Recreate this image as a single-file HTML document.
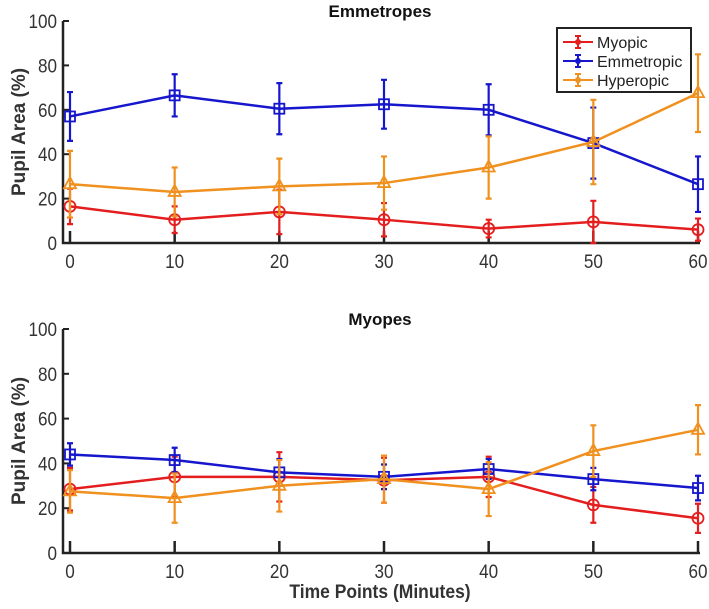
<!DOCTYPE html>
<html><head><meta charset="utf-8"><style>
body{margin:0;background:#fff;}
svg text{font-family:"Liberation Sans",Arial,sans-serif;}
</style></head><body>
<svg id="chart" width="709" height="604" xmlns="http://www.w3.org/2000/svg"></svg>
<script>
const times=[0,10,20,30,40,50,60];
const yTicks=[0,20,40,60,80,100];
const seriesNames=["Myopic","Emmetropic","Hyperopic"];
const emMyopic=[16.5,10.5,14,10.5,6.5,9.5,6];
const emMyopicErr=[8,6,10,7.5,4,9.5,5];
const emEmmetropic=[57,66.5,60.5,62.5,60,45,26.5];
const emEmmetropicErr=[11,9.5,11.5,11,11.5,16,12.5];
const emHyperopic=[26.5,23,25.5,27,34,45.5,67.5];
const emHyperopicErr=[15,11,12.5,12,14,19,17.5];
const myMyopic=[28.5,34,34,32.5,34,21.5,15.5];
const myMyopicErr=[9.5,9,11,10,9,8,6.5];
const myEmmetropic=[44,41.5,36,34,37.5,33,29];
const myEmmetropicErr=[5,5.5,6,5.5,4.5,5,5.5];
const myHyperopic=[27.5,24.5,30,33,28.5,45.5,55];
const myHyperopicErr=[9.5,11,11.5,10.5,12,11.5,11];

const NS="http://www.w3.org/2000/svg";
const svg=document.getElementById('chart');
const colors=["#e41e1e","#1616cc","#f0901e"];
function mk(tag,attrs,parent){const e=document.createElementNS(NS,tag);for(const k in attrs)e.setAttribute(k,attrs[k]);(parent||svg).appendChild(e);return e;}
function xS(t){return 70+t/60*628;}

function panel(name,title,top,bottom,vals,errs){
  const g=mk('g',{});
  
  
  const yS=v=>bottom-v/100*(bottom-top);
  const tt=mk('text',{x:380,y:top-4,'text-anchor':'middle','font-size':17,'font-weight':'bold',fill:'#111'},g);
  tt.textContent=title;
  
  
  const ax=mk('path',{d:`M63 ${top} V${bottom} H700`,stroke:'#222','stroke-width':2.5,fill:'none'},g);
  
  
  yTicks.forEach(v=>{
    mk('line',{x1:63,x2:69,y1:yS(v),y2:yS(v),stroke:'#222','stroke-width':2},g);
    const t=mk('text',{x:57/0.9,y:yS(v)+7,'text-anchor':'end','font-size':19,fill:'#333',transform:'scale(0.9,1)'},g);
    t.textContent=v;
    
    
  });
  times.forEach(v=>{
    mk('line',{x1:xS(v),x2:xS(v),y1:bottom,y2:bottom-12,stroke:'#222','stroke-width':2.5},g);
    const t=mk('text',{x:xS(v)/0.9,y:bottom+25,'text-anchor':'middle','font-size':19,fill:'#333',transform:'scale(0.9,1)'},g);
    t.textContent=v;
    
    
  });
  const yl=mk('text',{x:0,y:0,'text-anchor':'middle','font-size':19,'font-weight':'bold',fill:'#333',transform:`translate(25,${(top+bottom)/2}) rotate(-90)`},g);
  yl.textContent='Pupil Area (%)';
  
  
  vals.forEach((s,i)=>{
    const c=colors[i];
    const sg=mk('g',{},g);
    
    
    s.forEach((v,j)=>{
      const x=xS(times[j]),e=errs[i][j];
      const y1=yS(Math.max(0,v-e)),y2=yS(v+e);
      mk('path',{d:`M${x} ${y1}V${y2}M${x-3} ${y1}H${x+3}M${x-3} ${y2}H${x+3}`,stroke:c,'stroke-width':2.2,fill:'none'},sg);
    });
    mk('polyline',{points:s.map((v,j)=>xS(times[j])+','+yS(v)).join(' '),stroke:c,'stroke-width':2.5,fill:'none'},sg);
    s.forEach((v,j)=>{
      const x=xS(times[j]),y=yS(v);let m;
      if(i==0)m=mk('circle',{cx:x,cy:y,r:5.5,stroke:c,'stroke-width':1.8,fill:'none'},sg);
      else if(i==1)m=mk('rect',{x:x-5,y:y-5,width:10,height:10,stroke:c,'stroke-width':1.8,fill:'none'},sg);
      else m=mk('path',{d:`M${x} ${y-7}L${x+6} ${y+4}L${x-6} ${y+4}Z`,stroke:c,'stroke-width':1.8,fill:'none'},sg);
      
      
    });
  });
}
panel('emmetropes-panel','Emmetropes',21,243,[emMyopic,emEmmetropic,emHyperopic],[emMyopicErr,emEmmetropicErr,emHyperopicErr]);
panel('myopes-panel','Myopes',329,553,[myMyopic,myEmmetropic,myHyperopic],[myMyopicErr,myEmmetropicErr,myHyperopicErr]);

const xt=mk('text',{x:380/0.92,y:598,'text-anchor':'middle','font-size':19,'font-weight':'bold',fill:'#333',transform:'scale(0.92,1)'});
xt.textContent='Time Points (Minutes)';



const lg=mk('g',{});


mk('rect',{x:557,y:28,width:134,height:64,fill:'#fff',stroke:'#222','stroke-width':2},lg);
seriesNames.forEach((n,i)=>{
  const y=42+i*19,c=colors[i];
  mk('path',{d:`M563 ${y}H593M578 ${y-6}V${y+6}M575 ${y-6}H581M575 ${y+6}H581`,stroke:c,'stroke-width':2},lg);
  mk('circle',{cx:578,cy:y,r:3,fill:c},lg);
  const t=mk('text',{x:597,y:y+6,'font-size':16,fill:'#222'},lg);
  t.textContent=n;
  
  
});
</script>
</body></html>
